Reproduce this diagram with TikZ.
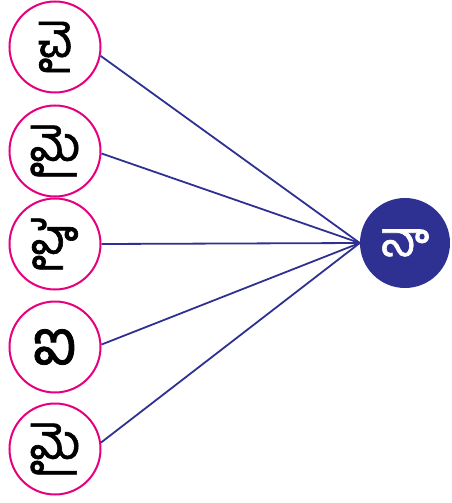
\documentclass[tikz,border=0pt]{standalone}
\usepackage{fontspec}
\newfontfamily\tel[Script=Telugu,FakeBold=1.3]{Hind Guntur}
\definecolor{pinkc}{HTML}{E6007E}
\definecolor{bluec}{HTML}{2E3192}
\tikzset{
  leaf/.style={circle, draw=pinkc, line width=2pt, fill=white, minimum size=91pt, inner sep=0pt, font=\tel\fontsize{48}{48}\selectfont, text=black},
  rootnode/.style={circle, fill=bluec, minimum size=90pt, inner sep=0pt, font=\tel\fontsize{48}{48}\selectfont, text=white},
  link/.style={draw=bluec, line width=1.8pt}
}
\begin{document}
\begin{tikzpicture}[x=1pt,y=-1pt]
\useasboundingbox (0,0) rectangle (451,503);
\node[rootnode] (r) at (405,243) {నా};
\node[leaf] (a) at (55,47) {చై};
\node[leaf] (b) at (55,151) {మై};
\node[leaf] (c) at (55,244) {హై};
\node[leaf, font=\tel\fontsize{62}{62}\selectfont] (d) at (55,347) {ఐ};
\node[leaf] (e) at (55,449) {మై};
\draw[link] (a.-11) -- (r.west);
\draw[link] (b.-3) -- (r.west);
\draw[link] (c.east) -- (r.west);
\draw[link] (d.3) -- (r.west);
\draw[link] (e.8) -- (r.west);
\end{tikzpicture}
\end{document}
